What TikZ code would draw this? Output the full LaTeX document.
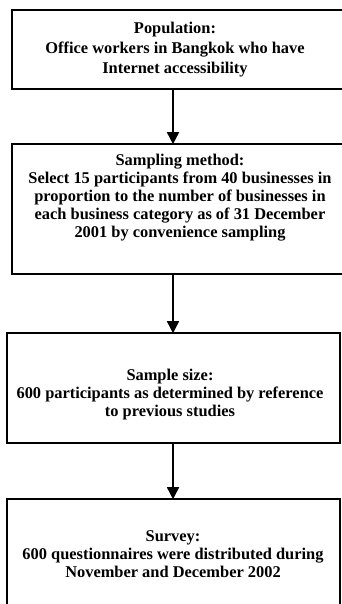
\documentclass[tikz,border=0pt]{standalone}
\usepackage{fontspec}
\setmainfont{Liberation Serif}
\usetikzlibrary{arrows.meta}
\tikzset{
  stagebox/.style={draw, line width=1.6pt, inner sep=0pt, rectangle},
  stagetext/.style={anchor=north, align=center, inner sep=0pt,
    font=\fontsize{16.4}{18}\selectfont\bfseries},
  flowarrow/.style={line width=1.6pt, -{Triangle[width=12pt,length=12pt]}, shorten >=-1pt}
}
\begin{document}
\begin{tikzpicture}[x=1pt, y=-1pt]
\useasboundingbox (0,0) rectangle (342,604);
\clip (0,0) rectangle (342,604);
\fill[white] (0,0) rectangle (342,604);

% stage boxes (the upper two run past the right margin, the last past the bottom)
\node[stagebox, minimum width=340pt, minimum height=79pt]  (b1) at (182,49.5) {};
\node[stagebox, minimum width=340pt, minimum height=130pt] (b2) at (182,209) {};
\node[stagebox, minimum width=333pt, minimum height=110pt] (b3) at (173.5,388) {};
\node[stagebox, minimum width=333pt, minimum height=130pt] (b4) at (173.5,564) {};

% stage texts
\node[stagetext, font=\fontsize{16.4}{20}\selectfont\bfseries] (t1) at (175,22) {Population:\\Office workers in Bangkok who have\\Internet accessibility};
\node[stagetext] (t2) at (180,154) {Sampling method:\\Select 15 participants from 40 businesses in\\proportion to the number of businesses in\\each business category as of 31 December\\2001 by convenience sampling};
\node[stagetext] (t3) at (170,369) {Sample size:\\600 participants as determined by reference\\to previous studies};
\node[stagetext] (t4) at (173,530) {Survey:\\600 questionnaires were distributed during\\November and December 2002};

% connectors
\coordinate (ax) at (173,0);
\draw[flowarrow] (b1.south -| ax) -- (b2.north -| ax);
\draw[flowarrow] (b2.south -| ax) -- (b3.north -| ax);
\draw[flowarrow] (b3.south -| ax) -- (b4.north -| ax);
\end{tikzpicture}
\end{document}
